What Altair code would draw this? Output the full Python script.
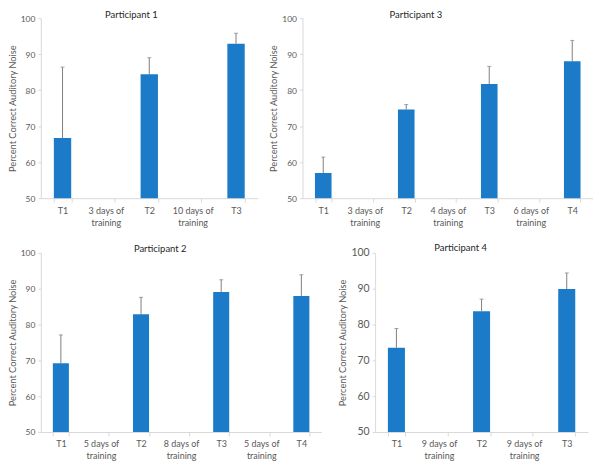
import altair as alt
import pandas as pd

FONT = "Lato"
BLUE = "#1B7BC8"
ERR = "#7F7F7F"

# ---- data ----
p1_cats = ["T1", "3 days of|training", "T2", "10 days of|training", "T3"]
p1_tests = ["T1", "T2", "T3"]
p1_means = [66.7, 84.4, 92.9]
p1_errs = [19.7, 4.6, 2.9]

p3_cats = ["T1", "3 days of|training", "T2", "4 days of|training", "T3", "6 days of|training", "T4"]
p3_tests = ["T1", "T2", "T3", "T4"]
p3_means = [57.0, 74.6, 81.7, 88.0]
p3_errs = [4.4, 1.4, 4.9, 5.8]

p2_cats = ["T1", "5 days of|training", "T2", "8 days of|training", "T3", "5 days of|training", "T4"]
p2_tests = ["T1", "T2", "T3", "T4"]
p2_means = [69.2, 82.9, 89.1, 88.0]
p2_errs = [7.9, 4.7, 3.4, 5.9]

p4_cats = ["T1", "9 days of|training", "T2", "9 days of|training", "T3"]
p4_tests = ["T1", "T2", "T3"]
p4_means = [73.5, 83.7, 89.9]
p4_errs = [5.4, 3.4, 4.5]

y_ticks = [50, 60, 70, 80, 90, 100]
y_title = "Percent Correct Auditory Noise"


def panel(title, cats, tests, means, errs, width, height, title_dx,
          ylab_size, title_pad):
    idx = [cats.index(t) for t in tests]
    df = pd.DataFrame({
        "idx": idx,
        "mean": means,
        "top": [m + e for m, e in zip(means, errs)],
    })
    label_js = "[" + ",".join('"%s"' % c for c in cats) + "]"
    lab = f"{label_js}[datum.value]"
    xscale = alt.Scale(domain=list(range(len(cats))), paddingInner=0.6, paddingOuter=0.3)
    xaxis = alt.Axis(
        title=None,
        labelExpr=f"isValid({lab}) ? split({lab}, '|') : ''",
        labelAngle=0,
        labelFontSize=9,
        labelLineHeight=12,
        labelPadding=4,
        labelOverlap=False,
        tickBand="extent",
        tickSize=4,
    )
    yscale = alt.Scale(domain=[50, 100], nice=False, zero=False)
    yaxis = alt.Axis(
        title=y_title,
        values=y_ticks,
        tickCount=6,
        labelFontSize=ylab_size,
        labelOverlap=False,
        titleFontSize=9.3,
        titleFontWeight="normal",
        titlePadding=title_pad,
        tickSize=3,
        labelPadding=3,
    )
    x = alt.X("idx:O", scale=xscale, axis=xaxis)
    bars = alt.Chart(df).mark_bar(color=BLUE).encode(
        x=x,
        y=alt.Y("mean:Q", scale=yscale, axis=yaxis),
        y2=alt.datum(50),
    )
    rules = alt.Chart(df).mark_rule(color=ERR, strokeWidth=1).encode(
        x=x, y=alt.Y("mean:Q", scale=yscale, axis=yaxis), y2="top:Q"
    )
    caps = alt.Chart(df).mark_tick(color=ERR, size=4, thickness=1, orient="horizontal").encode(
        x=x, y=alt.Y("top:Q", scale=yscale, axis=yaxis)
    )
    return alt.layer(bars, rules, caps).properties(
        width=width,
        height=height,
        title=alt.TitleParams(title, anchor="middle", dx=title_dx, offset=-5,
                              fontSize=9.5, fontWeight="normal", color="#262626",
                              font=FONT),
    )


c1 = panel("Participant 1", p1_cats, p1_tests, p1_means, p1_errs, 218, 181, -18, 8.5, 3)
c3 = panel("Participant 3", p3_cats, p3_tests, p3_means, p3_errs, 292, 181, -32, 8.5, 3)
c2 = panel("Participant 2", p2_cats, p2_tests, p2_means, p2_errs, 282, 180, -21, 8.5, 3)
c4 = panel("Participant 4", p4_cats, p4_tests, p4_means, p4_errs, 214, 180, -21, 10.5, 3)

row1 = alt.hconcat(c1, c3, spacing=45, bounds="flush")
row2 = alt.hconcat(c2, c4, spacing=54, bounds="flush")

chart = (
    alt.vconcat(row1, row2, spacing=16)
    .properties(padding=0)
    .configure_view(stroke=None)
    .configure_axis(
        grid=False,
        labelFont=FONT,
        titleFont=FONT,
        labelColor="#595959",
        titleColor="#595959",
        domainColor="#D9D9D9",
        tickColor="#D9D9D9",
    )
)

chart.save("out.html", embed_options={"renderer": "svg", "actions": False})
